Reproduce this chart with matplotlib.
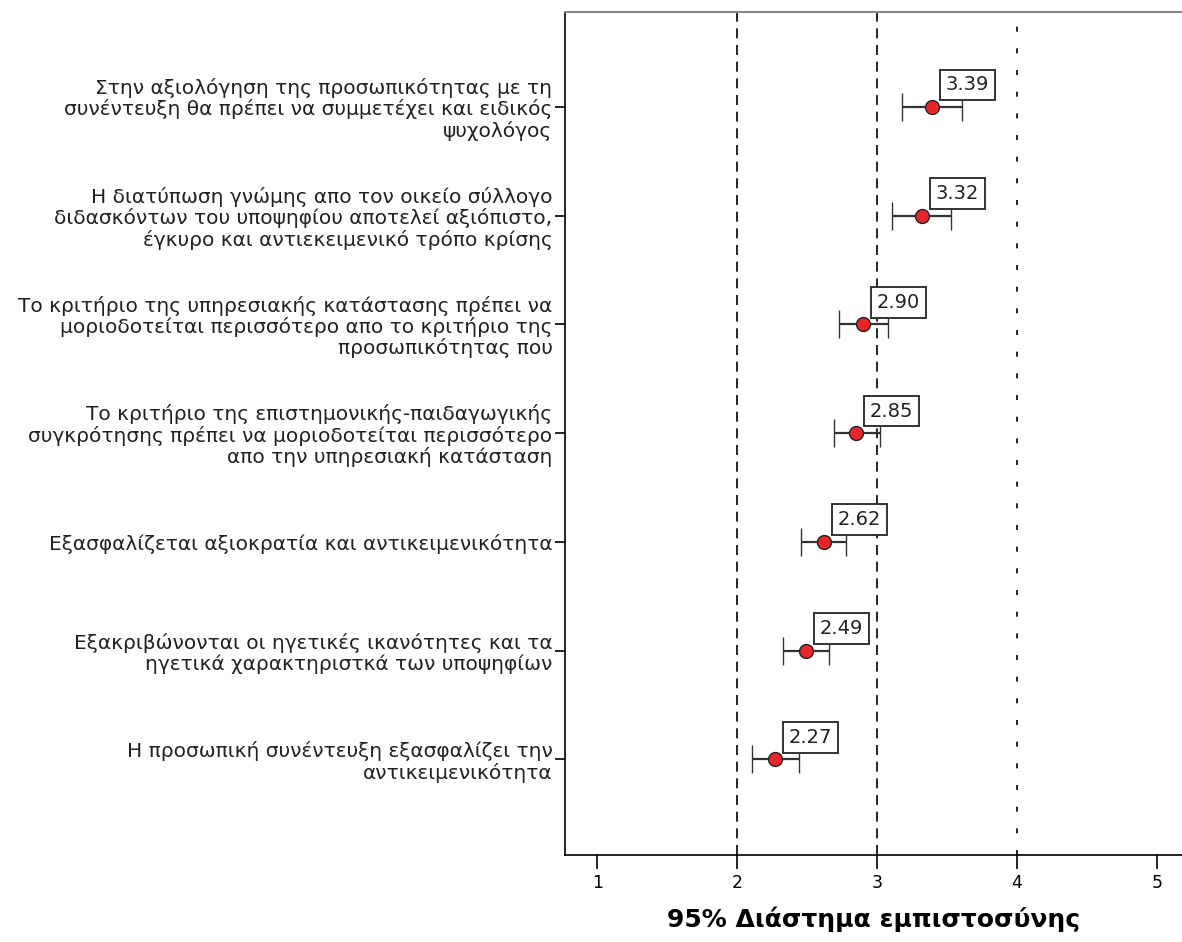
import matplotlib
matplotlib.use("Agg")
import matplotlib.pyplot as plt

labels = [
  "Στην αξιολόγηση της προσωπικότητας με τη\nσυνέντευξη θα πρέπει να συμμετέχει και ειδικός\nψυχολόγος",
  "Η διατύπωση γνώμης απο τον οικείο σύλλογο\nδιδασκόντων του υποψηφίου αποτελεί αξιόπιστο,\nέγκυρο και αντιεκειμενικό τρόπο κρίσης",
  "Το κριτήριο της υπηρεσιακής κατάστασης πρέπει να\nμοριοδοτείται περισσότερο απο το κριτήριο της\nπροσωπικότητας που",
  "Το κριτήριο της επιστημονικής-παιδαγωγικής\nσυγκρότησης πρέπει να μοριοδοτείται περισσότερο\nαπο την υπηρεσιακή κατάσταση",
  "Εξασφαλίζεται αξιοκρατία και αντικειμενικότητα",
  "Εξακριβώνονται οι ηγετικές ικανότητες και τα\nηγετικά χαρακτηριστκά των υποψηφίων",
  "Η προσωπική συνέντευξη εξασφαλίζει την\nαντικειμενικότητα",
]
means = [3.39, 3.32, 2.90, 2.85, 2.62, 2.49, 2.27]
ci_low = [3.18, 3.11, 2.73, 2.69, 2.46, 2.33, 2.11]
ci_high = [3.61, 3.53, 3.08, 3.02, 2.78, 2.66, 2.44]

plt.rcParams['font.family'] = ['DejaVu Sans']

fig = plt.figure(figsize=(11.82, 9.42), dpi=100)
ax = fig.add_axes([0.478, 0.0924, 0.522, 0.8946])

y = list(range(1, len(labels) + 1))
err_lo = [m - l for m, l in zip(means, ci_low)]
err_hi = [h - m for m, h in zip(means, ci_high)]

ax.errorbar(means, y, xerr=[err_lo, err_hi], fmt="o", color="#333333",
            ecolor="#333333", elinewidth=1.6, capsize=10, capthick=1.6,
            markersize=10, markerfacecolor="#e8262a", markeredgecolor="#222222",
            markeredgewidth=1, zorder=3)

for m, yy in zip(means, y):
  ax.annotate(f"{m:.2f}", xy=(m, yy), xytext=(10, 9), textcoords="offset points",
              fontsize=14, color="#222222", ha="left", va="bottom", zorder=4,
              bbox=dict(boxstyle="square,pad=0.3", fc="white", ec="#333333", lw=1.4))

ax.axvline(2, color="black", lw=1.2, ls=(0, (6, 4)), zorder=1)
ax.axvline(3, color="black", lw=1.2, ls=(0, (6, 4)), zorder=1)
ax.axvline(4, color="black", lw=1.2, ls=(0, (3, 10)), zorder=1)

ax.set_xlim(0.77, 5.18)
ax.set_ylim(7.88, 0.13)
ax.set_xticks([1, 2, 3, 4, 5])
ax.set_yticks(y)
ax.set_yticklabels(labels, fontsize=14.5, linespacing=1.08, color="#222222")
ax.tick_params(axis="x", direction="out", length=10, width=1.2, labelsize=12.5, pad=4)
ax.tick_params(axis="y", direction="out", length=7, width=1.2, pad=2)

ax.spines["right"].set_visible(False)
ax.spines["top"].set_color("#888888")
ax.spines["top"].set_linewidth(1.5)
ax.spines["left"].set_linewidth(1.2)
ax.spines["bottom"].set_linewidth(1.2)

ax.set_xlabel("95% Διάστημα εμπιστοσύνης", fontsize=18, fontweight="bold", labelpad=10)

fig.savefig("out.png", dpi=100)
